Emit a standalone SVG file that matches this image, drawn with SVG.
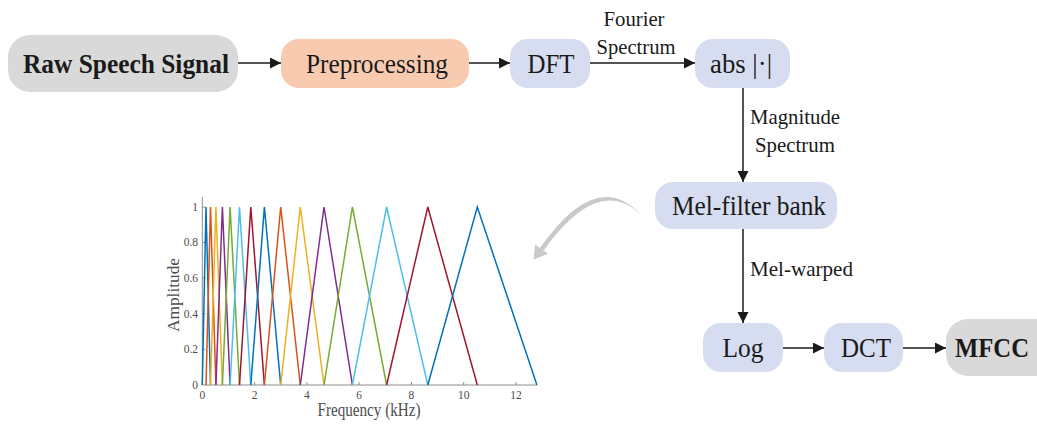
<svg xmlns="http://www.w3.org/2000/svg" width="1037" height="427" viewBox="0 0 1037 427">
<defs>
<marker id="ah" markerUnits="userSpaceOnUse" markerWidth="12" markerHeight="12" refX="11" refY="5.5" orient="auto">
<path d="M0,0 L11,5.5 L0,11 z" fill="#1a1a1a"/>
</marker>
</defs>
<style>
.gray{fill:#d9d9d9}
.peach{fill:#f8cbb1}
.blue{fill:#d7ddf0}
.nt{font-family:"Liberation Serif","Times New Roman",serif;font-size:28px;fill:#1a1a1a;text-anchor:middle}
.bt{font-weight:bold}
.lt{font-family:"Liberation Serif","Times New Roman",serif;font-size:21.5px;fill:#1a1a1a}
.edge{stroke:#1a1a1a;stroke-width:1.5;fill:none;marker-end:url(#ah)}
.ax{stroke:#8c8c8c;stroke-width:1;fill:none}
.tk{font-family:"Liberation Serif","Times New Roman",serif;font-size:11.5px;fill:#4d4d4d}
.at{font-family:"Liberation Serif","Times New Roman",serif;font-size:19px;fill:#4d4d4d;text-anchor:middle}
.f{fill:none;stroke-width:1.5;stroke-linejoin:miter}
</style>
<rect width="1037" height="427" fill="#ffffff"/>

<g id="connectors">
<line class="edge" x1="238" y1="63" x2="281" y2="63"/>
<line class="edge" x1="469" y1="63" x2="510" y2="63"/>
<line class="edge" x1="590" y1="63" x2="695" y2="63"/>
<line class="edge" x1="743" y1="88" x2="743" y2="182"/>
<line class="edge" x1="743" y1="229" x2="743" y2="323"/>
<line class="edge" x1="783" y1="348" x2="824" y2="348"/>
<line class="edge" x1="903" y1="348" x2="946" y2="348"/>
<text class="lt" x="634" y="26" text-anchor="middle" textLength="61" lengthAdjust="spacingAndGlyphs">Fourier</text>
<text class="lt" x="636" y="54" text-anchor="middle" textLength="79" lengthAdjust="spacingAndGlyphs">Spectrum</text>
<text class="lt" x="795" y="124" text-anchor="middle" textLength="90" lengthAdjust="spacingAndGlyphs">Magnitude</text>
<text class="lt" x="795" y="152" text-anchor="middle" textLength="80" lengthAdjust="spacingAndGlyphs">Spectrum</text>
<text class="lt" x="750" y="276" textLength="103" lengthAdjust="spacingAndGlyphs">Mel-warped</text>
</g>

<g id="node-raw">
<rect class="gray" x="8" y="35" width="230" height="57" rx="22"/>
<text class="nt bt" x="126" y="73" textLength="206" lengthAdjust="spacingAndGlyphs">Raw Speech Signal</text>
</g>
<g id="node-preprocessing">
<rect class="peach" x="281" y="39" width="188" height="49" rx="18"/>
<text class="nt" x="377" y="73" textLength="142" lengthAdjust="spacingAndGlyphs">Preprocessing</text>
</g>
<g id="node-dft">
<rect class="blue" x="510" y="39" width="80" height="49" rx="18"/>
<text class="nt" x="551" y="73" textLength="47" lengthAdjust="spacingAndGlyphs">DFT</text>
</g>
<g id="node-abs">
<rect class="blue" x="695" y="39" width="95" height="49" rx="18"/>
<text class="nt" x="741" y="73" textLength="62" lengthAdjust="spacingAndGlyphs">abs |·|</text>
</g>
<g id="node-melbank">
<rect class="blue" x="655" y="182" width="182" height="47" rx="18"/>
<text class="nt" x="749" y="215" textLength="154" lengthAdjust="spacingAndGlyphs">Mel-filter bank</text>
</g>
<g id="node-log">
<rect class="blue" x="703" y="323" width="80" height="49" rx="18"/>
<text class="nt" x="743" y="357" textLength="41" lengthAdjust="spacingAndGlyphs">Log</text>
</g>
<g id="node-dct">
<rect class="blue" x="824" y="323" width="79" height="49" rx="18"/>
<text class="nt" x="866" y="357" textLength="50" lengthAdjust="spacingAndGlyphs">DCT</text>
</g>
<g id="node-mfcc">
<path class="gray" d="M968,319 H1037 V376 H968 A22,22 0 0 1 946,354 V341 A22,22 0 0 1 968,319 z"/>
<text class="nt bt" x="992" y="357" font-size="27" textLength="74" lengthAdjust="spacingAndGlyphs">MFCC</text>
</g>

<g id="curved-arrow">
<path d="M643,217 Q598,165 540,248 L543.6,250.5 Q600,172 643,217 z" fill="#c9c9c9"/>
<polygon points="533.5,259.5 535.1,244.6 548.1,253.8" fill="#c9c9c9"/>
</g>

<g id="plot">
<line class="ax" x1="202.3" y1="197" x2="202.3" y2="385"/>
<line class="ax" x1="202.3" y1="385" x2="537" y2="385"/>
<g class="ax">
<path d="M254.6,385v-3M306.9,385v-3M359.1,385v-3M411.4,385v-3M463.7,385v-3M516,385v-3M202.3,349.3h3M202.3,313.7h3M202.3,278h3M202.3,242.4h3M202.3,207h3"/>
</g>
<g class="tk" text-anchor="end">
<text x="198" y="389">0</text>
<text x="198" y="353.3">0.2</text>
<text x="198" y="317.7">0.4</text>
<text x="198" y="282">0.6</text>
<text x="198" y="246.4">0.8</text>
<text x="198" y="211">1</text>
</g>
<g class="tk" text-anchor="middle">
<text x="202.3" y="399">0</text>
<text x="254.6" y="399">2</text>
<text x="306.9" y="399">4</text>
<text x="359.1" y="399">6</text>
<text x="411.4" y="399">8</text>
<text x="463.7" y="399">10</text>
<text x="516" y="399">12</text>
</g>
<text class="at" x="369" y="416" textLength="103" lengthAdjust="spacingAndGlyphs">Frequency (kHz)</text>
<text class="at" transform="translate(179,295) rotate(-90) scale(1,0.85)" textLength="74" lengthAdjust="spacingAndGlyphs">Amplitude</text>
<polyline class="f" stroke="#0072BD" points="202.3,385 206.0,207 210.5,385"/>
<polyline class="f" stroke="#D95319" points="206.0,385 210.5,207 215.9,385"/>
<polyline class="f" stroke="#EDB120" points="210.5,385 215.9,207 222.4,385"/>
<polyline class="f" stroke="#7E2F8E" points="215.9,385 222.4,207 230.1,385"/>
<polyline class="f" stroke="#77AC30" points="222.4,385 230.1,207 239.5,385"/>
<polyline class="f" stroke="#4DBEEE" points="230.1,385 239.5,207 250.8,385"/>
<polyline class="f" stroke="#A2142F" points="239.5,385 250.8,207 264.4,385"/>
<polyline class="f" stroke="#0072BD" points="250.8,385 264.4,207 280.7,385"/>
<polyline class="f" stroke="#D95319" points="264.4,385 280.7,207 300.3,385"/>
<polyline class="f" stroke="#EDB120" points="280.7,385 300.3,207 324.0,385"/>
<polyline class="f" stroke="#7E2F8E" points="300.3,385 324.0,207 352.4,385"/>
<polyline class="f" stroke="#77AC30" points="324.0,385 352.4,207 386.6,385"/>
<polyline class="f" stroke="#4DBEEE" points="352.4,385 386.6,207 427.8,385"/>
<polyline class="f" stroke="#A2142F" points="386.6,385 427.8,207 477.3,385"/>
<polyline class="f" stroke="#0072BD" points="427.8,385 477.3,207 536.9,385"/>
</g>
</svg>
